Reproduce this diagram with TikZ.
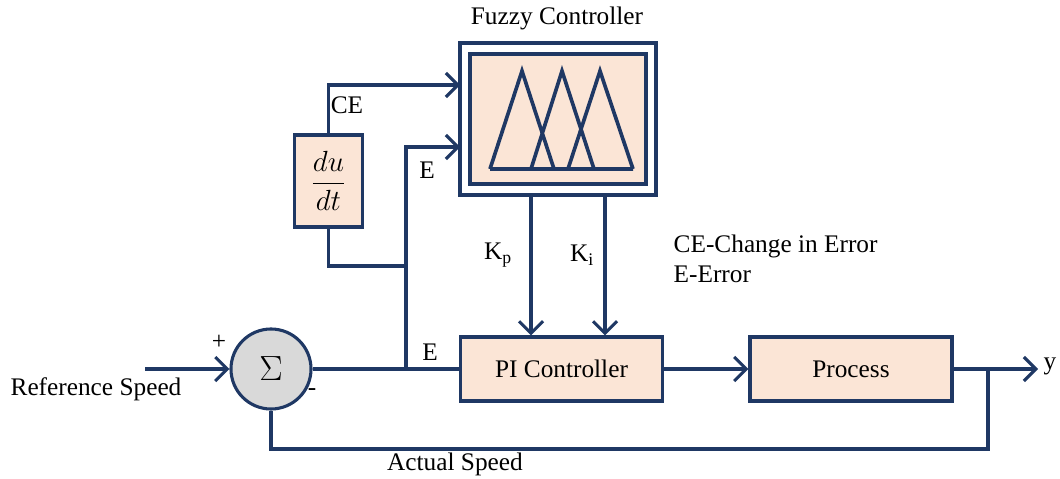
\documentclass[tikz,border=0pt]{standalone}
\usepackage{amsmath}
\usepackage{fontspec}
\setmainfont{Liberation Serif}
\usepackage{xcolor}
\usetikzlibrary{arrows.meta, positioning, calc}

\definecolor{navy}{RGB}{31,56,100}
\definecolor{peach}{RGB}{251,229,214}
\definecolor{sumgray}{RGB}{217,217,217}

\begin{document}
\begin{tikzpicture}[
    x=0.025cm, y=-0.025cm,
    % --- node styles ---
    every node/.style={font=\fontsize{18}{21}\selectfont},
    blk/.style={rectangle, draw=navy, fill=peach, line width=2.2pt,
        minimum width=5.05cm, minimum height=1.6cm},
    deriv/.style={rectangle, draw=navy, fill=peach, line width=2.2pt,
        minimum width=1.72cm, minimum height=2.3cm, inner sep=0pt},
    fzout/.style={rectangle, draw=navy, fill=white, line width=2.2pt,
        minimum width=4.9cm, minimum height=3.8cm},
    fzin/.style={rectangle, draw=navy, fill=peach, line width=2.2pt,
        minimum width=4.4cm, minimum height=3.25cm},
    summ/.style={circle, draw=navy, fill=sumgray, line width=2.2pt,
        minimum size=2cm, inner sep=0pt, font=\fontsize{26}{30}\selectfont},
    % --- arrow / label styles ---
    wire/.style={navy, line width=2.2pt},
    arr/.style={wire, -{Straight Barb[length=3mm, width=6mm]}},
    lbl/.style={inner sep=1pt}
]
\useasboundingbox (0,0) rectangle (1060,479);

%%% ================= FUZZY CONTROLLER =================
\node (fuzzy) [fzout] at (558,119) {};
\node (fzcore) [fzin] at (558,119) {};
\node (fztitle) at (557,18) {Fuzzy Controller};
\draw [wire, line width=2.6pt, line join=miter]
    (490,169) -- (522,71) -- (554,169)
    (531,169) -- (562,71) -- (594,169)
    (568,169) -- (600,71) -- (633,169)
    (490,169) -- (633,169);

%%% ================= DERIVATIVE =================
\node (dudt) [deriv] at (328.5,181) {\fontsize{20}{24}\selectfont$\dfrac{du}{dt}$};

%%% ================= MAIN LOOP =================
\node (sum) [summ] at (271,369) {$\Sigma$};
\node (pi) [blk] at (561.5,369) {PI Controller};
\node (proc) [blk] at (851,369) {Process};

\coordinate (ref) at (145,369);
\coordinate (ejoin) at (406,369);
\coordinate (ceIn) at (460,85);
\coordinate (eIn) at (460,147);
\coordinate (kpOut) at (531,195);
\coordinate (kiOut) at (605,195);
\coordinate (tap) at (988,369);
\coordinate (fbk) at (988,449);
\coordinate (yout) at (1038,369);

%%% ================= LABELS =================
\node (refl) [lbl] at (96,389) {Reference Speed};
\node (plus) [lbl] at (219,342) {+};
\node (minus) [lbl] at (312,392) {-};
\node (el) [lbl] at (430,352) {E};
\node (el2) [lbl] at (427,170) {E};
\node (cel) [lbl] at (347,105) {CE};
\node (kpl) [lbl] at (498,255) {K\textsubscript{p}};
\node (kil) [lbl] at (582,255) {K\textsubscript{i}};
\node (yl) [lbl] at (1050,366) {y};
\node (actl) [lbl] at (455,464) {Actual Speed};
\node (key1) [lbl, anchor=west] at (672,246) {CE-Change in Error};
\node (key2) [lbl, anchor=west] at (672,274) {E-Error};

%%% ================= ARROWS =================
\draw [arr] (ref) -- (sum);
\draw [wire] (sum) -- (pi);
\draw [arr] (pi) -- (proc);
\draw [arr] (proc) -- (yout);
\draw [wire] (tap) -- (fbk) -| (sum.south);

%% Error and change in error
\draw [arr] (ejoin) |- (eIn);
\draw [arr] (dudt.north) |- (ceIn);
\draw [wire] (dudt.south) |- (406,266);

%% Gains
\draw [arr] (kpOut) -- (kpOut |- pi.north);
\draw [arr] (kiOut) -- (kiOut |- pi.north);

\end{tikzpicture}
\end{document}
